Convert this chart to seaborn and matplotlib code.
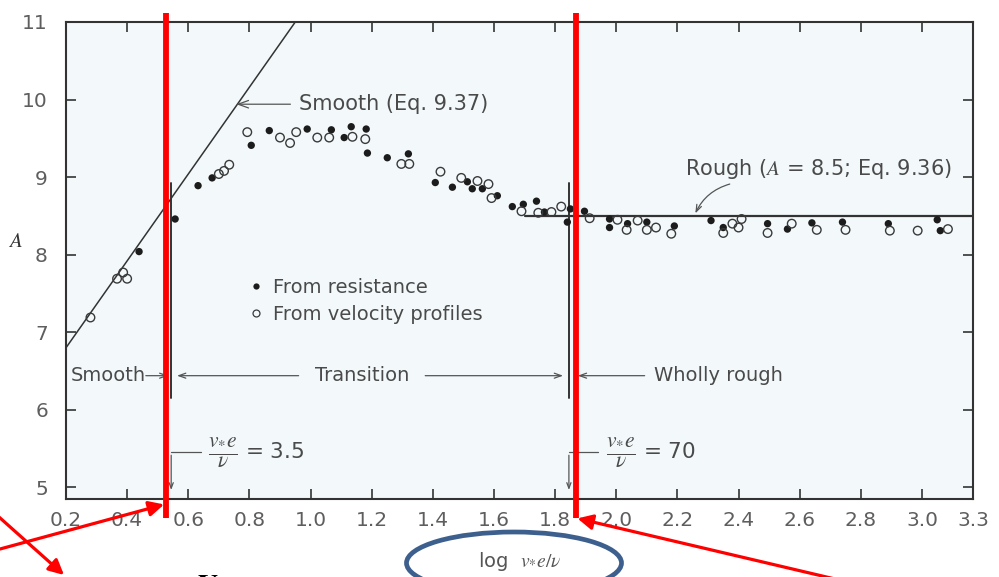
import matplotlib
matplotlib.use("Agg")
import numpy as np
import pandas as pd
import matplotlib.pyplot as plt
from matplotlib.patches import Ellipse
from matplotlib.lines import Line2D
import seaborn as sns

# Roughness function A versus log(v* e / nu)
res_log = [0.439, 0.557, 0.632, 0.678, 0.806, 0.865, 0.989, 1.068, 1.110, 1.133,
           1.182, 1.186, 1.251, 1.320, 1.408, 1.464, 1.513, 1.529, 1.562, 1.611,
           1.660, 1.696, 1.739, 1.765, 1.850, 1.840, 1.896, 1.978, 1.978, 2.037,
           2.100, 2.190, 2.310, 2.350, 2.495, 2.560, 2.640, 2.740, 2.890, 3.050,
           3.060]
res_A = [8.04, 8.46, 8.89, 8.99, 9.41, 9.60, 9.62, 9.61, 9.51, 9.65,
         9.62, 9.31, 9.25, 9.30, 8.93, 8.87, 8.94, 8.85, 8.85, 8.76,
         8.62, 8.65, 8.69, 8.55, 8.59, 8.42, 8.56, 8.46, 8.35, 8.40,
         8.42, 8.37, 8.44, 8.35, 8.40, 8.33, 8.41, 8.42, 8.40, 8.45,
         8.31]

vel_log = [0.280, 0.367, 0.387, 0.400, 0.700, 0.717, 0.734, 0.793, 0.900, 0.933,
           0.953, 1.022, 1.061, 1.137, 1.179, 1.297, 1.323, 1.425, 1.493, 1.546,
           1.582, 1.592, 1.690, 1.745, 1.788, 1.820, 1.913, 2.004, 2.034, 2.070,
           2.100, 2.130, 2.180, 2.350, 2.380, 2.400, 2.410, 2.495, 2.574, 2.656,
           2.750, 2.895, 2.986, 3.085]
vel_A = [7.19, 7.69, 7.77, 7.69, 9.04, 9.08, 9.16, 9.58, 9.51, 9.44,
         9.58, 9.51, 9.51, 9.52, 9.49, 9.17, 9.17, 9.07, 8.99, 8.95,
         8.91, 8.73, 8.56, 8.54, 8.55, 8.62, 8.47, 8.45, 8.32, 8.44,
         8.32, 8.35, 8.27, 8.28, 8.40, 8.35, 8.46, 8.28, 8.40, 8.32,
         8.32, 8.31, 8.31, 8.33]

# Smooth-wall law (Eq. 9.37) and fully rough constant (Eq. 9.36)
smooth_log = [0.20, 0.95]
smooth_A = [6.80, 11.0]
rough_start = 1.70
rough_A = 8.5

# Regime boundaries in v* e / nu
bound_small = 3.5
bound_large = 70

x_end = 3.167
x_ticks = [0.2, 0.4, 0.6, 0.8, 1.0, 1.2, 1.4, 1.6, 1.8, 2.0, 2.2, 2.4, 2.6, 2.8, 3.0]
x_tick_labels = ["0.2", "0.4", "0.6", "0.8", "1.0", "1.2", "1.4", "1.6", "1.8",
                 "2.0", "2.2", "2.4", "2.6", "2.8", "3.0"]
y_ticks = [5, 6, 7, 8, 9, 10, 11]

# Highlight overlays (red markers and arrows)
highlight_log = [0.527, 1.867]

sns.set_style("ticks")
plt.rcParams["font.family"] = ["DejaVu Sans"]
plt.rcParams["mathtext.fontset"] = "stix"

TXT = "#4a4a4a"
INK = "#333333"

fig = plt.figure(figsize=(9.99, 5.77), dpi=100)
fig.patch.set_facecolor("white")
ax = fig.add_axes([66 / 999, 1 - 499 / 577, 907 / 999, 477 / 577])
ax.set_facecolor("#f3f9fb")

# curves
ax.plot(smooth_log, smooth_A, color=INK, lw=1.1, zorder=2)
ax.plot([rough_start, x_end], [rough_A, rough_A], color=INK, lw=1.6, zorder=2)

df_res = pd.DataFrame({"log": res_log, "A": res_A})
df_vel = pd.DataFrame({"log": vel_log, "A": vel_A})
sns.scatterplot(data=df_res, x="log", y="A", ax=ax, color="#1c1c1c", s=28,
                edgecolor="none", zorder=4, legend=False)
sns.scatterplot(data=df_vel, x="log", y="A", ax=ax, facecolor="none",
                edgecolor="#3a3a3a", linewidth=1.0, s=38, zorder=4, legend=False)

ax.set_xlim(0.2, x_end)
ax.set_ylim(4.85, 11.0)
ax.set_xticks(x_ticks + [x_end])
ax.set_xticklabels(x_tick_labels + ["3.3"])
ax.set_yticks(y_ticks)
ax.tick_params(direction="in", length=7, width=1.2, top=True, right=True,
               color=INK, labelcolor="#5e5e5e", labelsize=14.5)
ax.tick_params(axis="x", pad=9)
ax.tick_params(axis="y", pad=13)
for s in ax.spines.values():
    s.set_color(INK)
    s.set_linewidth(1.5)

ax.set_xlabel(r"log  $v_{*}e/\nu$", fontsize=14, color="#555555", labelpad=14)
ax.set_ylabel(r"$A$", rotation=0, fontsize=15, color=INK)
ax.yaxis.set_label_coords(-0.056, 0.52)

# regime boundary markers
xs, xl = np.log10(bound_small), np.log10(bound_large)
for xb in (xs, xl):
    ax.plot([xb, xb], [6.15, 8.93], color=INK, lw=1.4, zorder=3)
    ax.annotate("", xy=(xb, 4.93), xytext=(xb, 5.45),
                arrowprops=dict(arrowstyle="->,head_length=0.4,head_width=0.15",
                                color="#555555", lw=0.9))
ax.plot([xs, 0.642], [5.45, 5.45], color="#555555", lw=0.9)
ax.plot([xl, 1.939], [5.45, 5.45], color="#555555", lw=0.9)
ax.text(0.665, 5.45, r"$\dfrac{v_{*}e}{\nu}$ = 3.5", fontsize=15.5, color=TXT,
        va="center", ha="left")
ax.text(1.965, 5.45, r"$\dfrac{v_{*}e}{\nu}$ = 70", fontsize=15.5, color=TXT,
        va="center", ha="left")

# regime labels
ar = dict(arrowstyle="->,head_length=0.5,head_width=0.18", color="#555555", lw=0.9)
yr = 6.44
ax.text(0.216, yr, "Smooth", fontsize=14, color=TXT, va="center", ha="left")
ax.annotate("", xy=(xs, yr), xytext=(0.452, yr), arrowprops=ar)
ax.text(1.17, yr, "Transition", fontsize=14, color=TXT, va="center", ha="center")
ax.annotate("", xy=(xs + 0.01, yr), xytext=(0.97, yr), arrowprops=ar)
ax.annotate("", xy=(xl - 0.01, yr), xytext=(1.366, yr), arrowprops=ar)
ax.text(2.125, yr, "Wholly rough", fontsize=14, color=TXT, va="center", ha="left")
ax.annotate("", xy=(xl + 0.02, yr), xytext=(2.102, yr), arrowprops=ar)

# curve labels
ax.annotate("Smooth (Eq. 9.37)", xy=(0.757, 9.94), xytext=(0.963, 9.94),
            fontsize=15, color=TXT, va="center", ha="left",
            arrowprops=dict(arrowstyle="->,head_length=0.5,head_width=0.18",
                            color="#555555", lw=0.9, shrinkA=4, shrinkB=0))
ax.text(2.224, 9.11, r"Rough ($A$ = 8.5; Eq. 9.36)", fontsize=15, color=TXT,
        va="center", ha="left")
ax.annotate("", xy=(2.255, rough_A), xytext=(2.38, 8.92),
            arrowprops=dict(arrowstyle="->,head_length=0.5,head_width=0.18",
                            color="#555555", lw=0.9,
                            connectionstyle="arc3,rad=0.25"))

# legend
handles = [Line2D([], [], ls="none", marker="o", ms=4.5, color="#1c1c1c", mec="none"),
           Line2D([], [], ls="none", marker="o", ms=5, mfc="none", mec="#3a3a3a", mew=0.9)]
leg = ax.legend(handles, ["From resistance", "From velocity profiles"],
                loc="upper left", bbox_to_anchor=(0.19, 0.484), frameon=False,
                fontsize=14, handlelength=0.8, handletextpad=0.5,
                labelspacing=0.4, borderpad=0)
for t in leg.get_texts():
    t.set_color(TXT)

# red highlight lines and arrows
for xh in highlight_log:
    ax.plot([xh, xh], [4.60, 11.12], color="#ff0000", lw=4.2, zorder=6,
            clip_on=False, solid_capstyle="butt")

red_ar = dict(arrowstyle="-|>,head_length=0.9,head_width=0.45", color="#ff0000",
              lw=2.3, shrinkA=0, shrinkB=0)
fig_frac = lambda px, py: (px / 999, 1 - py / 577)
ax.annotate("", xy=(0.521, 4.78), xycoords="data",
            xytext=fig_frac(0, 549), textcoords="figure fraction",
            arrowprops=red_ar, annotation_clip=False, zorder=7)
ax.annotate("", xy=fig_frac(64, 575), xycoords="figure fraction",
            xytext=fig_frac(-10, 509), textcoords="figure fraction",
            arrowprops=red_ar, annotation_clip=False, zorder=7)
ax.annotate("", xy=(1.873, 4.60), xycoords="data",
            xytext=fig_frac(835, 579), textcoords="figure fraction",
            arrowprops=red_ar, annotation_clip=False, zorder=7)

# circled axis label
cx, cy = fig_frac(514, 563)
fig.patches.append(Ellipse((cx, cy), 215 / 999, 62 / 577, transform=fig.transFigure,
                           fill=False, edgecolor="#3d5f8e", lw=3.4, zorder=8))

fig.text(197 / 999, 1 - 569 / 577, r"$\mathbf{V_{*}e}$", fontsize=20,
         color="black", va="top", ha="left")

fig.savefig("out.png", dpi=100)
